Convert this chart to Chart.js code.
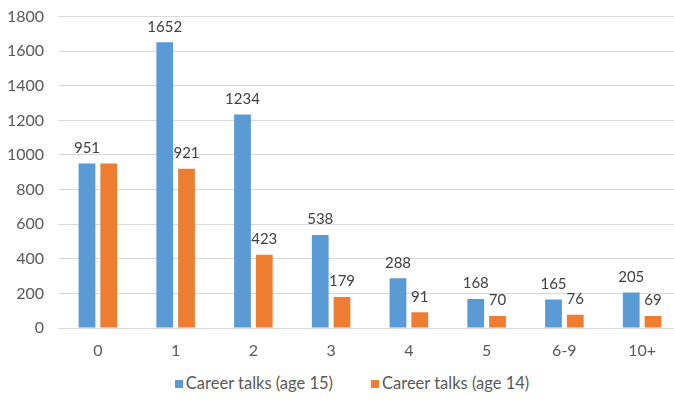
<!DOCTYPE html>
<html>
<head>
<meta charset="utf-8">
<script src="https://cdn.jsdelivr.net/npm/chart.js@4.4.1/dist/chart.umd.min.js"></script>
<style>
html,body{margin:0;padding:0;background:#fff;overflow:hidden;width:674px;height:403px;}
#wrap{position:relative;width:674px;height:403px;overflow:hidden;}
#c{position:absolute;left:0;top:-8px;}
#legend{position:absolute;left:0;top:373px;width:704px;display:flex;justify-content:center;
  font-family:Lato,'Open Sans',sans-serif;font-size:16.5px;color:#595959;line-height:20px;}
#legend .item{display:flex;align-items:center;margin:0 19px;white-space:nowrap;}
#legend .box{width:8px;height:8px;margin-right:3px;margin-top:2px;}
</style>
</head>
<body>
<div id="wrap"><canvas id="c" width="684" height="366"></canvas><div id="legend"></div></div>
<script>
const categories = ["0", "1", "2", "3", "4", "5", "6-9", "10+"];
const age15 = [951, 1652, 1234, 538, 288, 168, 165, 205];
const age14 = [951, 921, 423, 179, 91, 70, 76, 69];
const hiddenLabels = { 1: [0] }; // dataset index -> data indices without a value label
const yTicks = [0, 200, 400, 600, 800, 1000, 1200, 1400, 1600, 1800];

const FONT = "Lato, 'Open Sans', sans-serif";
const TEXT = "#595959";

const valueLabels = {
  id: 'valueLabels',
  afterDatasetsDraw(chart) {
    const ctx = chart.ctx;
    ctx.save();
    ctx.font = "15px " + FONT;
    ctx.fillStyle = "#404040";
    ctx.textAlign = "center";
    ctx.textBaseline = "bottom";
    chart.data.datasets.forEach((ds, di) => {
      const meta = chart.getDatasetMeta(di);
      meta.data.forEach((bar, i) => {
        if (hiddenLabels[di] && hiddenLabels[di].includes(i)) return;
        ctx.fillText(String(ds.data[i]), bar.x, bar.y - 8);
      });
    });
    ctx.restore();
  }
};

const htmlLegend = {
  id: 'htmlLegend',
  afterUpdate(chart) {
    const el = document.getElementById('legend');
    el.innerHTML = '';
    chart.data.datasets.forEach(ds => {
      const item = document.createElement('div');
      item.className = 'item';
      const box = document.createElement('span');
      box.className = 'box';
      box.style.background = ds.backgroundColor;
      const txt = document.createElement('span');
      txt.textContent = ds.label;
      item.appendChild(box);
      item.appendChild(txt);
      el.appendChild(item);
    });
  }
};

new Chart(document.getElementById('c'), {
  type: 'bar',
  data: {
    labels: categories,
    datasets: [
      { label: 'Career talks (age 15)', data: age15, backgroundColor: '#5B9BD5', categoryPercentage: 0.56, barPercentage: 0.77 },
      { label: 'Career talks (age 14)', data: age14, backgroundColor: '#ED7D31', categoryPercentage: 0.56, barPercentage: 0.77 }
    ]
  },
  options: {
    responsive: false,
    animation: false,
    layout: { padding: { top: 0, left: 0, right: 3, bottom: 0 } },
    plugins: {
      tooltip: { enabled: false },
      legend: { display: false }
    },
    scales: {
      x: {
        grid: { display: false, drawTicks: false },
        border: { color: '#d9d9d9', width: 1 },
        ticks: { font: { family: FONT, size: 16 }, color: TEXT, padding: 13 },
        afterFit(scale) { scale.height = 30; }
      },
      y: {
        min: 0, max: 1800,
        afterBuildTicks(scale) { scale.ticks = yTicks.map(v => ({ value: v })); },
        afterFit(scale) { scale.width = 59; },
        grid: { color: '#d9d9d9', drawTicks: false },
        border: { display: false },
        ticks: { font: { family: FONT, size: 16 }, color: TEXT, padding: 15, callback: v => String(v) }
      }
    }
  },
  plugins: [valueLabels, htmlLegend]
});
</script>
</body>
</html>
